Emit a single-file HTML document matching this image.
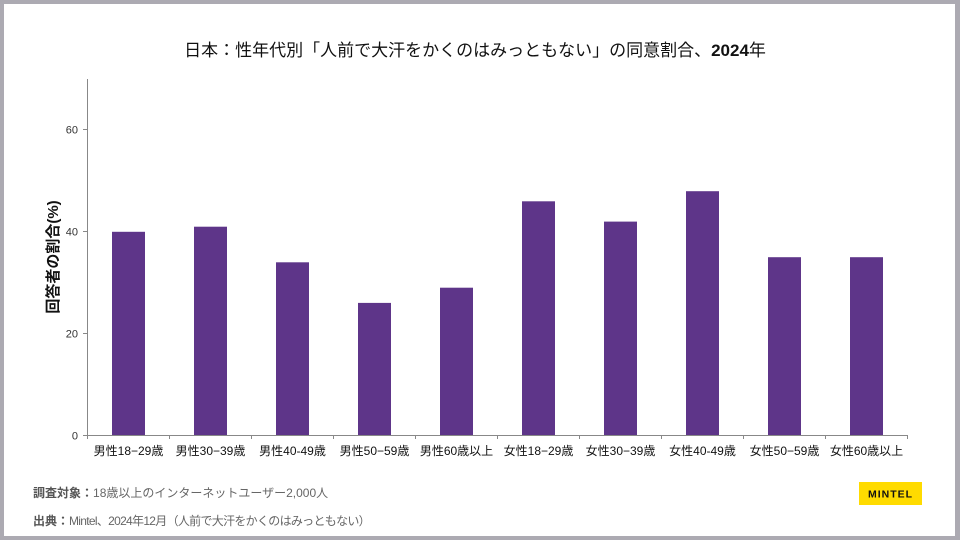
<!DOCTYPE html>
<html><head><meta charset="utf-8">
<style>
html,body{margin:0;padding:0;background:#fff;}
body{width:960px;height:540px;overflow:hidden;}
svg{display:block;}
text{font-family:"Liberation Sans","Noto Sans CJK JP",sans-serif;}
</style></head>
<body>
<svg width="960" height="540" viewBox="0 0 960 540" xmlns="http://www.w3.org/2000/svg">
<rect x="0" y="0" width="960" height="540" fill="#acaab2"/>
<rect x="4" y="4" width="951" height="532" fill="#ffffff"/>

<text x="475" y="56" font-size="17" text-anchor="middle" fill="#111">日本：性年代別「人前で大汗をかくのはみっともない」の同意割合、<tspan font-weight="bold">2024</tspan>年</text>

<!-- y axis -->
<line x1="87.5" y1="79" x2="87.5" y2="435" stroke="#888" stroke-width="1"/>
<g stroke="#888" stroke-width="1">
<line x1="83" y1="129.5" x2="88" y2="129.5"/>
<line x1="83" y1="231.5" x2="88" y2="231.5"/>
<line x1="83" y1="333.5" x2="88" y2="333.5"/>
<line x1="83" y1="435.5" x2="88" y2="435.5"/>
</g>
<g font-size="11" fill="#333" text-anchor="end">
<text x="78" y="133.5">60</text>
<text x="78" y="235.5">40</text>
<text x="78" y="337.5">20</text>
<text x="78" y="439.5">0</text>
</g>
<text transform="translate(58,257) rotate(-90)" font-size="15" font-weight="bold" text-anchor="middle" fill="#111">回答者の割合(%)</text>

<!-- bars -->
<g fill="#5e3589">
<rect x="112" y="231.8" width="33" height="203.2"/>
<rect x="194" y="226.7" width="33" height="208.3"/>
<rect x="276" y="262.3" width="33" height="172.7"/>
<rect x="358" y="302.9" width="33" height="132.1"/>
<rect x="440" y="287.7" width="33" height="147.3"/>
<rect x="522" y="201.3" width="33" height="233.7"/>
<rect x="604" y="221.6" width="33" height="213.4"/>
<rect x="686" y="191.2" width="33" height="243.8"/>
<rect x="768" y="257.2" width="33" height="177.8"/>
<rect x="850" y="257.2" width="33" height="177.8"/>
</g>

<!-- x axis -->
<line x1="87" y1="435.5" x2="908" y2="435.5" stroke="#888" stroke-width="1"/>
<g stroke="#888" stroke-width="1">
<line x1="87.5" y1="435" x2="87.5" y2="439"/>
<line x1="169.5" y1="435" x2="169.5" y2="439"/>
<line x1="251.5" y1="435" x2="251.5" y2="439"/>
<line x1="333.5" y1="435" x2="333.5" y2="439"/>
<line x1="415.5" y1="435" x2="415.5" y2="439"/>
<line x1="497.5" y1="435" x2="497.5" y2="439"/>
<line x1="579.5" y1="435" x2="579.5" y2="439"/>
<line x1="661.5" y1="435" x2="661.5" y2="439"/>
<line x1="743.5" y1="435" x2="743.5" y2="439"/>
<line x1="825.5" y1="435" x2="825.5" y2="439"/>
<line x1="907.5" y1="435" x2="907.5" y2="439"/>
</g>
<g font-size="12" fill="#111" text-anchor="middle">
<text x="128.5" y="455">男性18−29歳</text>
<text x="210.5" y="455">男性30−39歳</text>
<text x="292.5" y="455">男性40-49歳</text>
<text x="374.5" y="455">男性50−59歳</text>
<text x="456.5" y="455">男性60歳以上</text>
<text x="538.5" y="455">女性18−29歳</text>
<text x="620.5" y="455">女性30−39歳</text>
<text x="702.5" y="455">女性40-49歳</text>
<text x="784.5" y="455">女性50−59歳</text>
<text x="866.5" y="455">女性60歳以上</text>
</g>

<!-- footer -->
<text x="33" y="497" font-size="12" fill="#666"><tspan font-weight="bold" fill="#555">調査対象：</tspan><tspan>18歳以上のインターネットユーザー2,000人</tspan></text>
<text x="33" y="525" font-size="12" fill="#666"><tspan font-weight="bold" fill="#555">出典：</tspan><tspan letter-spacing="-0.7">Mintel、2024年12月（人前で大汗をかくのはみっともない）</tspan></text>

<rect x="859" y="482" width="63" height="23" fill="#ffdb00"/>
<text x="890.5" y="497.5" font-size="10.5" font-weight="bold" fill="#111" text-anchor="middle" letter-spacing="1">MINTEL</text>
</svg>
</body></html>
